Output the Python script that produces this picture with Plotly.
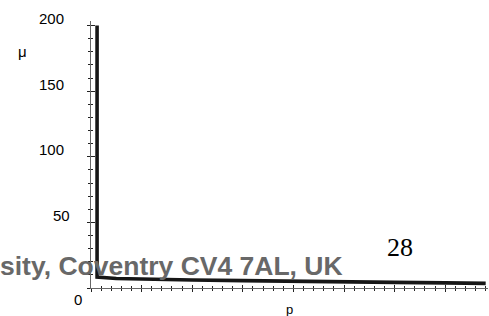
import plotly.graph_objects as go

# data
p_vals = [0.12, 0.12, 0.5, 1, 2, 3, 4, 5, 6, 7, 7.8]
mu_vals = [200, 8.3, 7.2, 6.7, 6.1, 5.6, 5.0, 4.6, 4.3, 3.9, 3.5]
y_tick_vals = [50, 100, 150, 200]
y_tick_text = ["50", "100", "150", "200"]

W, H = 489, 316
ML, MR, MT, MB = 91, 1, 21, 28
PW = W - ML - MR
PH = H - MT - MB
XMAX = PW / 50.6
YMAX = PH / 1.312

fig = go.Figure()
fig.add_trace(go.Scatter(x=p_vals, y=mu_vals, mode="lines",
                         line=dict(color="#161616", width=3.6),
                         hoverinfo="skip", showlegend=False))
# invisible trace on overlay axes for crossing ticks
fig.add_trace(go.Scatter(x=[0], y=[0], xaxis="x2", yaxis="y2", mode="markers",
                         marker=dict(opacity=0), hoverinfo="skip", showlegend=False))

axis_line = "#666666"
tick_col = "#222222"

fig.update_layout(
    width=W, height=H,
    margin=dict(l=ML, r=MR, t=MT, b=MB, pad=0),
    paper_bgcolor="white", plot_bgcolor="white",
    xaxis=dict(range=[0, XMAX], showgrid=False, zeroline=False,
               showline=True, linecolor=axis_line, linewidth=1,
               ticks="outside", ticklen=3, tickcolor=tick_col, tickwidth=1,
               tick0=0, dtick=1, showticklabels=False,
               minor=dict(ticks="outside", ticklen=2, tick0=0, dtick=0.2,
                          tickcolor=tick_col, tickwidth=1, showgrid=False)),
    xaxis2=dict(range=[0, XMAX], overlaying="x", anchor="y", showgrid=False,
                zeroline=False, showline=False,
                ticks="inside", ticklen=3, tickcolor=tick_col, tickwidth=1,
                tick0=0, dtick=1, showticklabels=False,
                minor=dict(ticks="inside", ticklen=2, tick0=0, dtick=0.2,
                           tickcolor=tick_col, tickwidth=1, showgrid=False)),
    yaxis=dict(range=[0, YMAX], showgrid=False, zeroline=False,
               showline=True, linecolor=axis_line, linewidth=1,
               ticks="outside", ticklen=3, tickcolor=tick_col, tickwidth=1,
               tick0=0, dtick=50, showticklabels=False,
               minor=dict(ticks="outside", ticklen=2, tick0=0, dtick=10,
                          tickcolor=tick_col, tickwidth=1, showgrid=False)),
    yaxis2=dict(range=[0, YMAX], overlaying="y", anchor="x", side="left",
                showgrid=False, zeroline=False, showline=False,
                ticks="inside", ticklen=4, tickcolor=tick_col, tickwidth=1,
                tick0=0, dtick=50, showticklabels=False,
                minor=dict(ticks="inside", ticklen=2, tick0=0, dtick=10,
                           tickcolor=tick_col, tickwidth=1, showgrid=False)),
    showlegend=False,
)

def px_x(px):
    return (px - ML) / PW

def px_y(py):
    return (H - MB - py) / PH

lab_font = dict(family="Liberation Sans, Arial, sans-serif", size=15, color="black")
label_right = {"50": 72, "100": 66, "150": 66, "200": 66}
for v, t in zip(y_tick_vals, y_tick_text):
    fig.add_annotation(x=px_x(label_right[t]), xref="paper", y=v, yref="y",
                       yshift=7, text=t, showarrow=False, xanchor="right",
                       yanchor="middle", font=lab_font)
fig.add_annotation(x=px_x(72), xref="paper", y=0, yref="y", yshift=-11,
                   text="0", showarrow=False, xanchor="left", yanchor="middle",
                   font=lab_font)
fig.add_annotation(x=px_x(22), xref="paper", y=px_y(51), yref="paper",
                   text="μ", showarrow=False, xanchor="center", yanchor="middle",
                   font=lab_font)
fig.add_annotation(x=px_x(289), xref="paper", y=px_y(309), yref="paper",
                   text="p", showarrow=False, xanchor="center", yanchor="middle",
                   font=dict(family="Liberation Sans, Arial, sans-serif", size=13, color="black"))
fig.add_annotation(x=px_x(-2), xref="paper", y=px_y(266), yref="paper",
                   text="<b>sity, Coventry CV4 7AL, UK</b>", showarrow=False,
                   xanchor="left", yanchor="middle",
                   font=dict(family="Liberation Sans, Arial, sans-serif", size=26.5, color="#686868"))
fig.add_annotation(x=px_x(400), xref="paper", y=px_y(247), yref="paper",
                   text="28", showarrow=False, xanchor="center", yanchor="middle",
                   font=dict(family="Liberation Serif, Times New Roman, serif", size=26, color="black"))

fig.write_html("out.html", config={"displayModeBar": False},
               post_script="document.body.style.margin='0';")
